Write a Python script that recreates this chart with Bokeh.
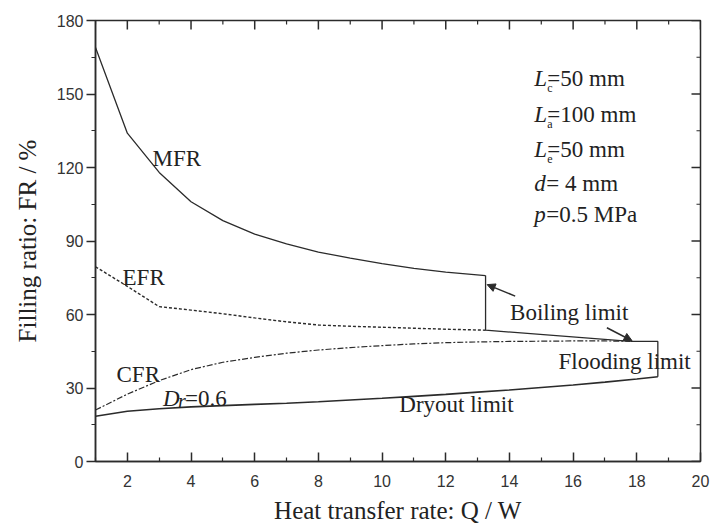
import math
from bokeh.plotting import figure
from bokeh.models import Label, Arrow, NormalHead, FixedTicker, Range1d
from bokeh.embed import file_html
from bokeh.resources import INLINE

# ---- data ----
mfr_x = [1, 2, 3, 4, 5, 6, 7, 8, 9, 10, 11, 12, 13.25]
mfr_y = [169, 134, 118, 106, 98.3, 92.8, 88.8, 85.5, 83, 80.8, 78.8, 77.3, 75.9]

efr_x = [1, 2, 3, 4, 5, 6, 7, 8, 9, 10, 11, 12, 13.25]
efr_y = [79.5, 71.5, 63.2, 61.8, 60.3, 58.6, 57.0, 55.7, 55.2, 54.8, 54.4, 54.0, 53.6]

cfr_x = [1, 2, 3, 4, 5, 6, 7, 8, 9, 10, 11, 12, 13, 14, 15, 16, 17, 17.8]
cfr_y = [21, 27.5, 33, 37.5, 40.5, 42.5, 44.2, 45.5, 46.5, 47.3, 48.0, 48.5,
         48.8, 49.0, 49.1, 49.2, 49.2, 49.1]

dry_x = [1, 2, 3, 4, 5, 6, 7, 8, 9, 10, 11, 12, 13, 14, 15, 16, 17, 18, 18.66]
dry_y = [18.5, 20.5, 21.5, 22.3, 22.8, 23.3, 23.8, 24.4, 25.1, 25.8, 26.6, 27.4,
         28.3, 29.2, 30.2, 31.2, 32.4, 33.7, 34.6]

boil_x = [13.25, 13.25, 17.8]
boil_y = [75.9, 53.6, 49.0]

flood_x = [17.8, 18.66, 18.66]
flood_y = [49.0, 49.0, 34.6]

x_ticks = [2, 4, 6, 8, 10, 12, 14, 16, 18, 20]
x_minor = [1, 3, 5, 7, 9, 11, 13, 15, 17, 19]
y_ticks = [0, 30, 60, 90, 120, 150, 180]
y_minor = [15, 45, 75, 105, 135, 165]

X_MIN, X_MAX = 1, 20
Y_MIN, Y_MAX = 0, 180

INK = "#2b2b2b"
SERIF = "Liberation Serif"
SANS = "Liberation Sans"

p = figure(width=712, height=526, output_backend="svg", toolbar_location=None,
           x_range=Range1d(X_MIN, X_MAX), y_range=Range1d(Y_MIN, Y_MAX),
           x_axis_label="Heat transfer rate: Q / W",
           y_axis_label="Filling ratio: FR / %",
           min_border_left=95, min_border_right=12, min_border_top=20,
           min_border_bottom=65)
p.xgrid.visible = False
p.ygrid.visible = False
p.outline_line_color = INK
p.outline_line_width = 1.5
p.background_fill_color = "white"
p.border_fill_color = "white"

xa = p.xaxis[0]
xa.ticker = FixedTicker(ticks=x_ticks, minor_ticks=x_minor)
xa.major_tick_in = 9
xa.major_tick_out = 0
xa.minor_tick_in = 4
xa.minor_tick_out = 0
xa.major_label_standoff = 13
xa.axis_label_standoff = 7

ya = p.yaxis[0]
ya.ticker = FixedTicker(ticks=y_ticks, minor_ticks=y_minor)
ya.major_tick_in = 0
ya.major_tick_out = 9
ya.minor_tick_in = 0
ya.minor_tick_out = 4
ya.major_label_standoff = 3
ya.axis_label_standoff = 13

for ax in (xa, ya):
    ax.axis_line_color = INK
    ax.axis_line_width = 1.5
    ax.major_tick_line_color = INK
    ax.major_tick_line_width = 1.5
    ax.minor_tick_line_color = INK
    ax.minor_tick_line_width = 1.2
    ax.major_label_text_font = SANS
    ax.major_label_text_font_size = "16px"
    ax.major_label_text_color = "#333333"
    ax.axis_label_text_font = SERIF
    ax.axis_label_text_font_size = "25px"
    ax.axis_label_text_font_style = "normal"
    ax.axis_label_text_color = "#222222"

# mirrored inward ticks on the top and right edges (dash markers centred on
# the frame edge; the half outside the frame is clipped away)
p.scatter(x_ticks, [Y_MAX] * len(x_ticks), marker="dash", size=18,
          angle=math.pi / 2, line_color=INK, line_width=1.5)
p.scatter(x_minor, [Y_MAX] * len(x_minor), marker="dash", size=8,
          angle=math.pi / 2, line_color=INK, line_width=1.2)
p.scatter([X_MAX] * len(y_ticks), y_ticks, marker="dash", size=18,
          line_color=INK, line_width=1.5)
p.scatter([X_MAX] * len(y_minor), y_minor, marker="dash", size=8,
          line_color=INK, line_width=1.2)

# ---- curves ----
p.line(mfr_x, mfr_y, line_color=INK, line_width=1.3)
p.line(efr_x, efr_y, line_color=INK, line_width=1.4, line_dash="3 2")
p.line(cfr_x, cfr_y, line_color=INK, line_width=1.2, line_dash="6 2 2 2")
p.line(dry_x, dry_y, line_color=INK, line_width=1.6)
p.line(boil_x, boil_y, line_color=INK, line_width=1.3)
p.line(flood_x, flood_y, line_color=INK, line_width=1.3)

# ---- arrows ----
p.add_layout(Arrow(end=NormalHead(size=8, fill_color=INK, line_color=INK),
                   x_start=14.18, y_start=67.5, x_end=13.3, y_end=72.2,
                   line_color=INK, line_width=1.5))
p.add_layout(Arrow(end=NormalHead(size=8, fill_color=INK, line_color=INK),
                   x_start=17.06, y_start=54.6, x_end=17.85, y_end=49.3,
                   line_color=INK, line_width=1.5))


def lab(x, y, text, size="23px", style="normal", dx=0, dy=0):
    p.add_layout(Label(x=x, y=y, text=text, text_font=SERIF,
                       text_font_size=size, text_font_style=style,
                       text_color="#222222", text_baseline="middle",
                       text_align="left", x_offset=dx, y_offset=dy))


# curve labels
lab(2.79, 123.5, "MFR")
lab(1.85, 75.1, "EFR")
lab(1.66, 35.5, "CFR")
lab(14.02, 60.7, "Boiling limit")
lab(15.54, 40.9, "Flooding limit")
lab(10.54, 23.3, "Dryout limit")
# D_r = 0.6
lab(3.12, 25.6, "D", style="italic")
lab(3.12, 25.6, "r", size="20px", style="italic", dx=15, dy=-2)
lab(3.12, 25.6, "=0.6", dx=22)

# parameter block
px0 = 14.78
lab(px0, 156.3, "L", style="italic")
lab(px0, 156.3, "c", size="12px", dx=13, dy=-9)
lab(px0, 156.3, "=50 mm", dx=13)
lab(px0, 141.6, "L", style="italic")
lab(px0, 141.6, "a", size="12px", dx=13, dy=-9)
lab(px0, 141.6, "=100 mm", dx=13)
lab(px0, 127.3, "L", style="italic")
lab(px0, 127.3, "e", size="12px", dx=13, dy=-9)
lab(px0, 127.3, "=50 mm", dx=13)
lab(px0, 113.5, "d", style="italic")
lab(px0, 113.5, "= 4 mm", dx=12)
lab(px0, 100.8, "p", style="italic")
lab(px0, 100.8, "=0.5 MPa", dx=12)

open("out.html", "w").write(file_html(p, INLINE))
